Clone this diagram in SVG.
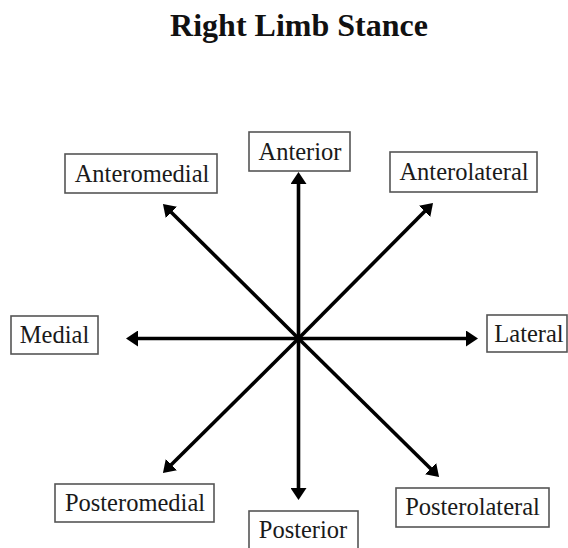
<svg xmlns="http://www.w3.org/2000/svg" width="568" height="548" viewBox="0 0 568 548">
<style>
.box{fill:#fff;stroke:#555;stroke-width:1.6}
.lbl{font-family:"Liberation Serif","Times New Roman",serif;font-size:24.5px;fill:#1a1a1a;text-anchor:middle}
.title{font-family:"Liberation Serif","Times New Roman",serif;font-size:32px;font-weight:bold;fill:#111;text-anchor:middle}
.arr{stroke:#000;stroke-width:3.6;fill:none;marker-end:url(#ah)}
</style>
<defs>
<marker id="ah" viewBox="0 0 12 16" refX="6" refY="8" markerWidth="12" markerHeight="16" orient="auto" markerUnits="userSpaceOnUse">
<path d="M0,0 L12,8 L0,16 z" fill="#000"/>
</marker>
</defs>
<rect width="568" height="548" fill="#fff"/>
<text class="title" x="299" y="36">Right Limb Stance</text>
<g id="connectors">
<line class="arr" x1="298.5" y1="338.5" x2="298.5" y2="178"/>
<line class="arr" x1="298.5" y1="338.5" x2="298.5" y2="494"/>
<line class="arr" x1="298.5" y1="338.5" x2="132" y2="338.5"/>
<line class="arr" x1="298.5" y1="338.5" x2="472" y2="338.5"/>
<line class="arr" x1="298.5" y1="338.5" x2="167.2" y2="208.2"/>
<line class="arr" x1="298.5" y1="338.5" x2="428.8" y2="207.2"/>
<line class="arr" x1="298.5" y1="338.5" x2="167.2" y2="468.8"/>
<line class="arr" x1="298.5" y1="338.5" x2="434.8" y2="472.8"/>
</g>
<g id="anterior"><rect class="box" x="249" y="132" width="101" height="39"/><text class="lbl" x="300" y="160">Anterior</text></g>
<g id="anteromedial"><rect class="box" x="65" y="154" width="152" height="39"/><text class="lbl" x="142" y="182">Anteromedial</text></g>
<g id="anterolateral"><rect class="box" x="390" y="152" width="147" height="40"/><text class="lbl" x="464" y="180">Anterolateral</text></g>
<g id="medial"><rect class="box" x="11" y="316" width="87" height="38"/><text class="lbl" x="54.5" y="343">Medial</text></g>
<g id="lateral"><rect class="box" x="487" y="315" width="80" height="37"/><text class="lbl" x="529" y="342">Lateral</text></g>
<g id="posteromedial"><rect class="box" x="55" y="484" width="159" height="38"/><text class="lbl" x="135" y="511">Posteromedial</text></g>
<g id="posterior"><rect class="box" x="249" y="511" width="109" height="40"/><text class="lbl" x="303" y="538">Posterior</text></g>
<g id="posterolateral"><rect class="box" x="396" y="488" width="153" height="39"/><text class="lbl" x="472.5" y="515">Posterolateral</text></g>
</svg>
